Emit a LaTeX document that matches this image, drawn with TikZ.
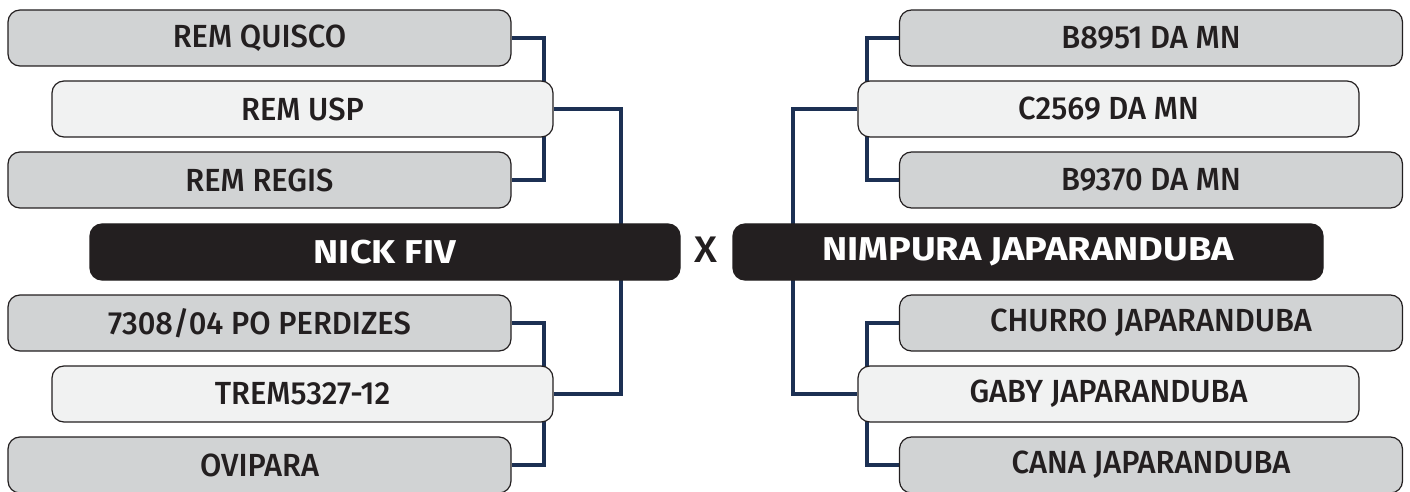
\documentclass[tikz,border=0pt]{standalone}
\usepackage{fontspec}
\setmainfont{Fira Sans Medium}[FakeStretch=0.965]
\newfontfamily\boldf{Fira Sans Bold}[FakeStretch=1.15]
\newfontfamily\xfont{Fira Sans Medium}[FakeStretch=1.1]
\usetikzlibrary{backgrounds}
\definecolor{boxgray}{HTML}{D1D3D4}
\definecolor{boxlight}{HTML}{F1F2F2}
\definecolor{ink}{HTML}{231F20}
\definecolor{navy}{HTML}{1C3053}
\tikzset{
  base/.style={draw=ink, line width=0.6pt, rounded corners=6pt, minimum height=28pt, inner sep=0pt, text=ink, font=\fontsize{16}{18}\selectfont},
  graybox/.style={base, fill=boxgray, minimum width=251.5pt},
  lightbox/.style={base, fill=boxlight, minimum width=250.5pt},
  mainbox/.style={draw=ink, line width=0.6pt, rounded corners=6pt, fill=ink, text=white, minimum width=295pt, minimum height=28pt, inner sep=0pt, font=\boldf\fontsize{16.5}{19}\selectfont},
  link/.style={draw=navy, line width=2pt}
}
\begin{document}
\begin{tikzpicture}[x=0.5pt, y=-0.5pt]
\useasboundingbox (0,0) rectangle (1410,492);
% left
\node[graybox]  (rq) at (259.5,38)  {REM QUISCO};
\node[lightbox] (ru) at (302.5,109) {REM USP};
\node[graybox]  (rr) at (259.5,180) {REM REGIS};
\node[mainbox]  (nf) at (385,252)   {NICK FIV};
\node[graybox]  (pp) at (259.5,323) {7308/04 PO PERDIZES};
\node[lightbox] (tr) at (302.5,394) {TREM5327-12};
\node[graybox]  (ov) at (259.5,465) {OVIPARA};
% right
\node[graybox]  (b8) at (1151,38)   {B8951 DA MN};
\node[lightbox] (c2) at (1108.5,109){C2569 DA MN};
\node[graybox]  (b9) at (1151,180)  {B9370 DA MN};
\node[mainbox]  (nj) at (1028,252)  {NIMPURA JAPARANDUBA};
\node[graybox]  (ch) at (1151,323)  {CHURRO JAPARANDUBA};
\node[lightbox] (gb) at (1108.5,394){GABY JAPARANDUBA};
\node[graybox]  (ca) at (1151,465)  {CANA JAPARANDUBA};
% X
\node[text=ink, font=\xfont\fontsize{18.5}{20}\selectfont, inner sep=0pt] (x) at (705.5,250) {X};
\begin{pgfonlayer}{background}
\draw[link] (rq.east) -- ++(32,0) |- (rr.east);
\draw[link] (ru.east) -- ++(67,0) |- (tr.east);
\draw[link] (pp.east) -- ++(32,0) |- (ov.east);
\draw[link] (b8.west) -- ++(-32,0) |- (b9.west);
\draw[link] (c2.west) -- ++(-64,0) |- (gb.west);
\draw[link] (ch.west) -- ++(-32,0) |- (ca.west);
\end{pgfonlayer}
\end{tikzpicture}
\end{document}
